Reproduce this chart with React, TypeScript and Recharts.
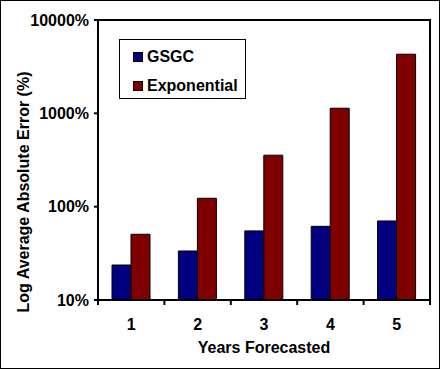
import React from "react";
import { BarChart, Bar, XAxis, YAxis, Legend, ReferenceArea } from "recharts";

const years = ["1", "2", "3", "4", "5"];
const gsgc = [23.7, 33.5, 55, 61.6, 70.3];
const exponential = [50.6, 123, 356, 1134, 4300];
const yTicks = [10, 100, 1000, 10000];
const seriesOrder = ["GSGC", "Exponential"];

const data = years.map((y, i) => ({ year: y, GSGC: gsgc[i], Exponential: exponential[i] }));

const FONT = "'Liberation Sans', Arial, sans-serif";

const LegendBox = (props: any) => {
  const payload = [...(props.payload || [])].sort(
    (a: any, b: any) => seriesOrder.indexOf(a.value) - seriesOrder.indexOf(b.value)
  );
  return (
    <div
      style={{
        boxSizing: "border-box",
        width: 127,
        height: 60,
        border: "1px solid #000",
        background: "#fff",
        paddingLeft: 13,
        paddingTop: 7,
        fontFamily: FONT,
        fontWeight: "bold",
        fontSize: 16,
        color: "#000",
      }}
    >
      {payload.map((p: any, i: number) => (
        <div key={i} style={{ display: "flex", alignItems: "center", height: 20, marginBottom: i === 0 ? 9 : 0 }}>
          <span
            style={{
              display: "inline-block",
              boxSizing: "border-box",
              width: 10,
              height: 10,
              background: p.color,
              border: "1px solid #000",
              marginRight: 4,
            }}
          />
          <span style={{ lineHeight: "20px" }}>{p.value}</span>
        </div>
      ))}
    </div>
  );
};

const XTick = (props: any) => {
  const { x, y, payload, index, visibleTicksCount } = props;
  const half = payload && payload.offset ? payload.offset : 0;
  const axisY = y - 19;
  const last = index === visibleTicksCount - 1;
  return (
    <g>
      <line x1={x - half} x2={x - half} y1={axisY} y2={axisY + 5} stroke="#000" strokeWidth={2} />
      {last && <line x1={x + half} x2={x + half} y1={axisY} y2={axisY + 5} stroke="#000" strokeWidth={2} />}
      <text
        x={x}
        y={y}
        dy="0.71em"
        textAnchor="middle"
        fontFamily={FONT}
        fontWeight="bold"
        fontSize={16}
        fill="#000"
      >
        {payload.value}
      </text>
    </g>
  );
};

const YLabel = (props: any) => {
  const vb = props.viewBox || { x: 0, y: 0, width: 0, height: 0 };
  const x = vb.x + 29;
  const y = vb.y + vb.height / 2 + 32;
  return (
    <text
      x={x}
      y={y}
      transform={`rotate(-90, ${x}, ${y})`}
      textAnchor="middle"
      fontFamily={FONT}
      fontWeight="bold"
      fontSize={16}
      fill="#000"
    >
      Log Average Absolute Error (%)
    </text>
  );
};

const XLabel = (props: any) => {
  const vb = props.viewBox || { x: 0, y: 0, width: 0, height: 0 };
  return (
    <text
      x={vb.x + vb.width / 2}
      y={vb.y + 53}
      textAnchor="middle"
      fontFamily={FONT}
      fontWeight="bold"
      fontSize={16}
      fill="#000"
    >
      Years Forecasted
    </text>
  );
};

export default function App() {
  const tickStyle = { fontFamily: FONT, fontWeight: "bold", fontSize: 16, fill: "#000" } as any;
  return (
    <div style={{ position: "absolute", left: 0, top: 0, width: 441, height: 370, background: "#fff" }}>
      <BarChart
        width={441}
        height={370}
        data={data}
        margin={{ top: 20, right: 11, bottom: 0, left: 0 }}
        barSize={19}
        barGap={0}
      >
        <XAxis
          dataKey="year"
          tick={<XTick />}
          tickLine={false}
          tickSize={0}
          tickMargin={19}
          axisLine={{ stroke: "#000", strokeWidth: 2 }}
          height={70}
          label={<XLabel />}
        />
        <YAxis
          scale="log"
          domain={[10, 10000]}
          ticks={yTicks}
          allowDataOverflow
          width={98}
          tick={tickStyle}
          tickFormatter={(v: number) => `${v}%`}
          tickSize={4}
          tickMargin={5}
          tickLine={{ stroke: "#000", strokeWidth: 2 }}
          axisLine={{ stroke: "#000", strokeWidth: 2 }}
          label={<YLabel />}
        />
        <ReferenceArea y1={10} y2={10000} fill="none" stroke="#000" strokeWidth={2} ifOverflow="visible" />
        <Legend
          layout="vertical"
          align="center"
          verticalAlign="middle"
          content={<LegendBox />}
          wrapperStyle={{ left: 119, top: 39, width: 127, height: 60 }}
        />
        <Bar dataKey="GSGC" name="GSGC" fill="#000080" stroke="#000" strokeWidth={1} isAnimationActive={false} />
        <Bar dataKey="Exponential" name="Exponential" fill="#800000" stroke="#000" strokeWidth={1} isAnimationActive={false} />
      </BarChart>
      <div
        style={{
          position: "absolute",
          left: 0,
          top: 0,
          width: 440,
          height: 369,
          boxSizing: "border-box",
          border: "1px solid #000",
          pointerEvents: "none",
        }}
      />
    </div>
  );
}
